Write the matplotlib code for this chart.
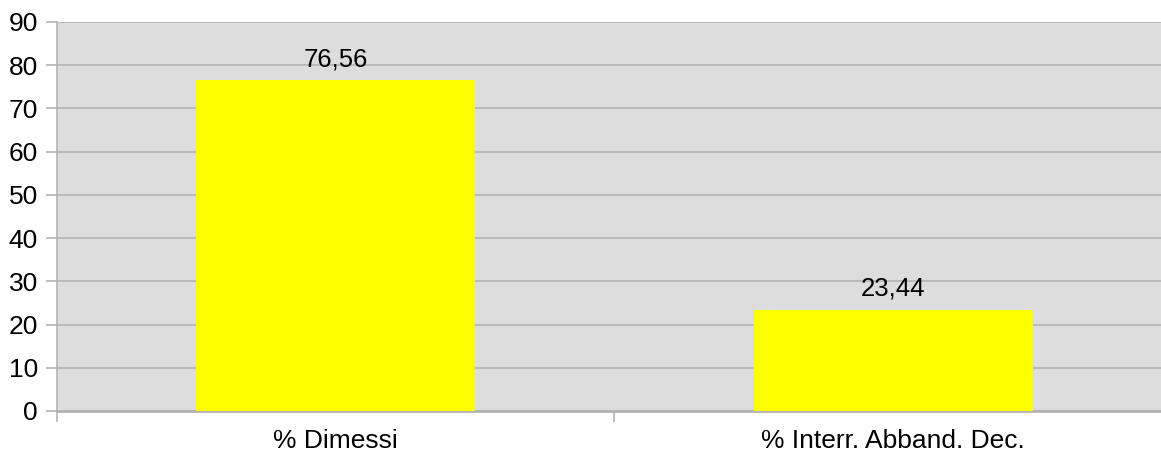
import matplotlib
matplotlib.use("Agg")
import matplotlib.pyplot as plt

categories = ["% Dimessi", "% Interr. Abband. Dec."]
values = [76.56, 23.44]
y_ticks = list(range(0, 100, 10))

plt.rcParams["font.family"] = ["Liberation Sans", "DejaVu Sans"]

fig = plt.figure(figsize=(11.61, 4.57), dpi=100)
ax = fig.add_axes([0.0487, 0.1007, 0.961, 0.8512])
ax.set_facecolor("#dddddd")

x = list(range(len(categories)))
bars = ax.bar(x, values, width=0.5, color="#ffff00", zorder=3)

for rect, v in zip(bars, values):
    ax.annotate(f"{v:.2f}".replace(".", ","),
                (rect.get_x() + rect.get_width() / 2, rect.get_height()),
                xytext=(0, 6.5), textcoords="offset points",
                ha="center", va="bottom", fontsize=18.5, color="#000000",
                zorder=4)

ax.set_xlim(-0.5, len(categories) - 0.5)
ax.set_ylim(0, 90)
ax.set_yticks(y_ticks)
ax.yaxis.grid(True, color="#b3b3b3", linewidth=1.2, zorder=1)
ax.set_axisbelow(True)

# category labels centred, tick marks only at the category boundaries
ax.set_xticks(x)
ax.set_xticklabels(categories)
ax.set_xticks([-0.5, 0.5, 1.5], minor=True)
ax.tick_params(axis="x", which="major", length=0, pad=13, labelsize=19)
ax.tick_params(axis="x", which="minor", length=8, width=1.2, color="#b3b3b3")
ax.tick_params(axis="y", length=8, width=1.2, color="#b3b3b3",
               pad=5.5, labelsize=19)

for side in ["top", "right"]:
    ax.spines[side].set_visible(False)
ax.spines["left"].set_color("#b3b3b3")
ax.spines["left"].set_linewidth(1.2)
ax.spines["bottom"].set_color("#b3b3b3")
ax.spines["bottom"].set_linewidth(2)

fig.savefig("out.png", dpi=100, facecolor="white")
